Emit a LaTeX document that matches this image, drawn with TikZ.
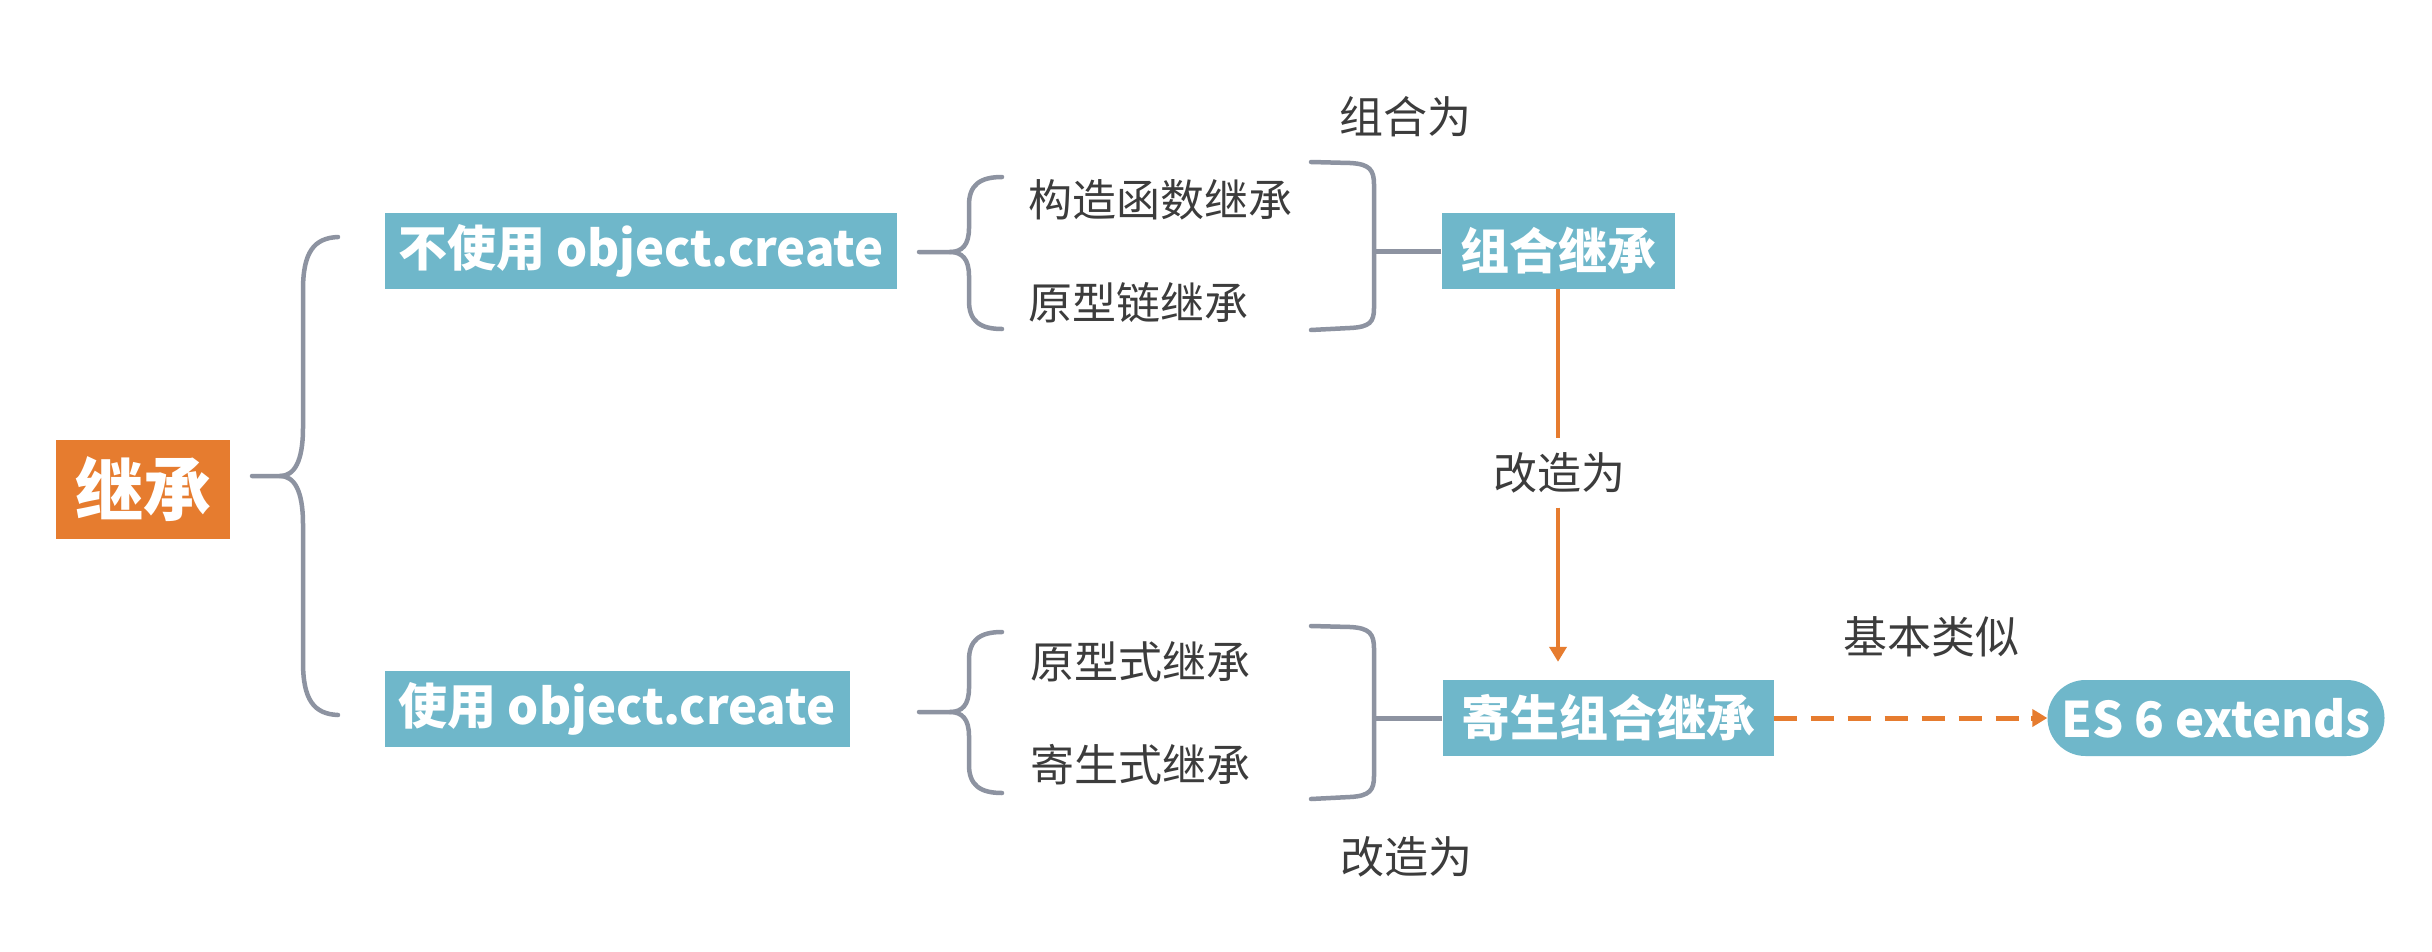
\documentclass[tikz,border=0pt]{standalone}
\usepackage{fontspec}
\setmainfont{Noto Sans CJK SC}
\usetikzlibrary{arrows.meta}
\definecolor{tealbox}{HTML}{6FB7CA}
\definecolor{orng}{HTML}{E67C2F}
\definecolor{brc}{HTML}{8D93A1}
\definecolor{txt}{HTML}{3C3C3C}
\begin{document}
\begin{tikzpicture}[x=1pt,y=-1pt,
  box/.style={fill=tealbox,text=white,font=\fontsize{49}{56}\selectfont\bfseries,inner sep=0pt,minimum height=76pt},
  rootbox/.style={fill=orng,text=white,font=\fontsize{68}{76}\selectfont\bfseries,inner sep=0pt,minimum width=174pt,minimum height=99pt},
  lbl/.style={text=txt,font=\fontsize{44}{50}\selectfont,inner sep=0pt},
  brace/.style={draw=brc,line width=4.5pt,line cap=round,line join=round},
  conn/.style={draw=brc,line width=5pt},
  orarrow/.style={draw=orng,line width=4.5pt,-{Triangle[length=15pt,width=17pt]}},
  tip/.style={-{Triangle[length=15pt,width=17pt]}}]
\useasboundingbox[fill=white] (0,0) rectangle (2432,952);

% nodes
\node[rootbox] (root) at (143,489) {继承};
\node[box,minimum width=512pt] (nouse) at (641,251) {不使用 object.create};
\node[box,minimum width=465pt] (use) at (617,709) {使用 object.create};
\node[box,minimum width=233pt] (combo) at (1558,251) {组合继承};
\node[box,minimum width=331pt] (pcombo) at (1608,718) {寄生组合继承};
\node[box,minimum width=337pt,rounded corners=38pt] (es6) at (2216,718) {ES 6 extends};

% labels
\node[lbl,anchor=west] (c1) at (1028,200) {构造函数继承};
\node[lbl,anchor=west] (c2) at (1028,303) {原型链继承};
\node[lbl,anchor=west] (c3) at (1030,662) {原型式继承};
\node[lbl,anchor=west] (c4) at (1030,765) {寄生式继承};
\node[lbl] (l1) at (1405,117) {组合为};
\node[lbl] (l2) at (1406,857) {改造为};
\node[lbl] (l3) at (1931,637) {基本类似};
\node[lbl,inner sep=14pt] (l4) at (1559,473) {改造为};

% big brace
\draw[brace] (338,237) .. controls (314,238) and (303,252) .. (303,290) -- (303,428) .. controls (303,462) and (294,476) .. (280,476) -- (252,476);
\draw[brace] (338,715) .. controls (314,714) and (303,700) .. (303,662) -- (303,524) .. controls (303,490) and (294,476) .. (280,476);

% small brace top
\draw[brace] (1002,177) .. controls (980,177) and (969,185) .. (969,205) -- (969,228) .. controls (969,245) and (962,252) .. (950,252) -- (919,252);
\draw[brace] (1002,329) .. controls (980,329) and (969,321) .. (969,301) -- (969,276) .. controls (969,259) and (962,252) .. (950,252);

% small brace bottom
\draw[brace] (1002,632) .. controls (980,632) and (969,640) .. (969,660) -- (969,688) .. controls (969,705) and (962,712) .. (950,712) -- (919,712);
\draw[brace] (1002,793) .. controls (980,793) and (969,785) .. (969,765) -- (969,736) .. controls (969,719) and (962,712) .. (950,712);

% right brackets
\draw[brace] (1311,162) -- (1350,163) .. controls (1370,164) and (1374,170) .. (1374,185) -- (1374,308) .. controls (1374,322) and (1370,327) .. (1350,328) -- (1311,330);
\draw[brace] (1311,626) -- (1350,627) .. controls (1370,628) and (1374,634) .. (1374,649) -- (1374,776) .. controls (1374,790) and (1370,796) .. (1350,797) -- (1311,799);

% connectors
\draw[conn] (combo.west) -- ++(-68,0);
\draw[conn] (pcombo.west) -- ++(-68,0);
\draw[draw=orng,line width=4.5pt] (combo.south) -- (l4.north -| combo.south);
\draw[orarrow,shorten >=18pt] (l4.south -| combo.south) -- (pcombo.north -| combo.south);
\draw[draw=orng,line width=5pt,dash pattern=on 23pt off 14pt] (pcombo.east) -- ([xshift=-14pt]es6.west);
\draw[draw=orng,line width=5pt,tip] ([xshift=-16pt]es6.west) -- (es6.west);
\end{tikzpicture}
\end{document}
